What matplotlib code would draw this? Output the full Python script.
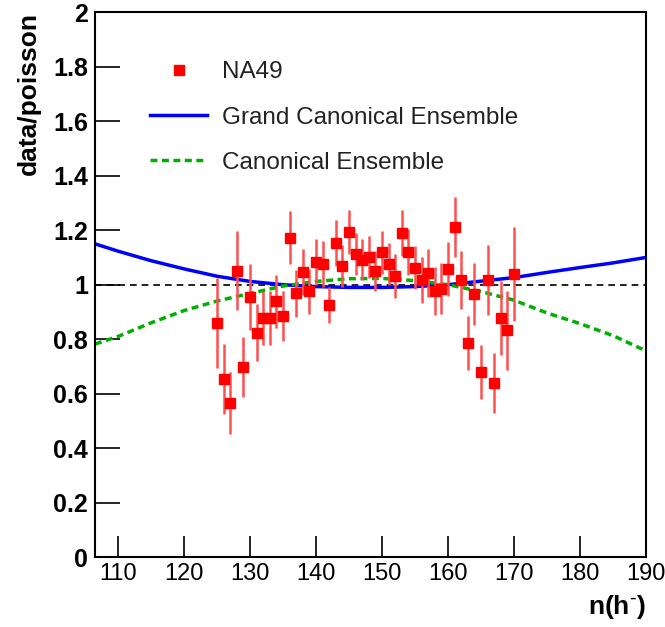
import matplotlib
matplotlib.use("Agg")
import matplotlib.pyplot as plt
from matplotlib.lines import Line2D

plt.rcParams['font.family'] = ['Liberation Sans', 'DejaVu Sans']

# NA49 data points
n_data = list(range(125, 171))
ratio = [0.858, 0.654, 0.564, 1.052, 0.697, 0.955, 0.823, 0.878, 0.878, 0.939,
         0.886, 1.173, 0.968, 1.047, 0.976, 1.084, 1.076, 0.925, 1.153, 1.069,
         1.195, 1.112, 1.092, 1.100, 1.050, 1.119, 1.076, 1.032, 1.191, 1.119,
         1.063, 1.017, 1.042, 0.977, 0.985, 1.057, 1.211, 1.017, 0.787, 0.965,
         0.679, 1.017, 0.640, 0.876, 0.832, 1.040]
ratio_err = [0.165, 0.130, 0.114, 0.146, 0.110, 0.120, 0.105, 0.100, 0.100, 0.098,
             0.092, 0.098, 0.085, 0.085, 0.083, 0.085, 0.083, 0.067, 0.083, 0.078,
             0.081, 0.078, 0.076, 0.077, 0.072, 0.078, 0.078, 0.080, 0.085, 0.084,
             0.080, 0.083, 0.089, 0.088, 0.093, 0.099, 0.110, 0.108, 0.099, 0.113,
             0.100, 0.130, 0.110, 0.136, 0.144, 0.173]

# Model curves
n_model = [106.5, 110, 115, 120, 125, 130, 135, 140, 145, 150, 155, 160, 165, 170, 175, 180, 185, 190]
gce = [1.150, 1.123, 1.088, 1.058, 1.031, 1.012, 1.000, 0.993, 0.990, 0.990,
       0.993, 1.000, 1.013, 1.026, 1.045, 1.063, 1.080, 1.100]
ce = [0.782, 0.810, 0.860, 0.905, 0.940, 0.968, 0.995, 1.012, 1.022, 1.023,
      1.015, 1.000, 0.975, 0.943, 0.896, 0.857, 0.813, 0.757]

xticks = [110, 120, 130, 140, 150, 160, 170, 180, 190]
yticks = [0, 0.2, 0.4, 0.6, 0.8, 1, 1.2, 1.4, 1.6, 1.8, 2]
ytick_labels = ['0', '0.2', '0.4', '0.6', '0.8', '1', '1.2', '1.4', '1.6', '1.8', '2']

fig = plt.figure(figsize=(6.65, 6.27), dpi=100)
ax = fig.add_axes([0.1429, 0.1116, 0.8285, 0.8687])

ax.axhline(1.0, color='black', lw=1.2, ls=(0, (4, 3)), zorder=1)
l_gce, = ax.plot(n_model, gce, color='#0000ff', lw=2.5, zorder=2)
l_ce, = ax.plot(n_model, ce, color='#00b000', lw=2.5, ls=(0, (2, 1.3)), zorder=2)
ax.errorbar(n_data, ratio, yerr=ratio_err, fmt='s', color='#ff0000', ecolor='#ff5050',
            elinewidth=1.8, capsize=0, ms=7, mec='#ff0000', zorder=3)

ax.set_xlim(106.5, 190)
ax.set_ylim(0, 2)
ax.set_xticks(xticks)
ax.set_xticklabels([str(t) for t in xticks], fontsize=17)
ax.set_yticks(yticks)
ax.set_yticklabels(ytick_labels, fontsize=18, fontweight='bold')
ax.tick_params(axis='both', direction='in', width=1.2, colors='black')
ax.tick_params(axis='y', length=18, pad=5)
ax.tick_params(axis='x', length=15, pad=4)
ax.minorticks_off()
for s in ax.spines.values():
    s.set_linewidth(1.5)

ax.set_ylabel('data/poisson', fontsize=19, fontweight='bold', loc='top', labelpad=9)
ax.set_xlabel(r'n(h$^{\text{-}}$)', fontsize=19, fontweight='bold', loc='right', labelpad=6)

na49_handle = Line2D([], [], ls='none', marker='s', ms=7, color='#ff0000')
leg = ax.legend([na49_handle, l_gce, l_ce],
                ['NA49', 'Grand Canonical Ensemble', 'Canonical Ensemble'],
                loc='upper left', bbox_to_anchor=(0.06, 0.95), frameon=False,
                fontsize=17.5, handlelength=2.35, labelspacing=0.95, handletextpad=0.62,
                borderpad=0.4)
for t in leg.get_texts():
    t.set_color('#222222')

fig.savefig('out.png', dpi=100)
